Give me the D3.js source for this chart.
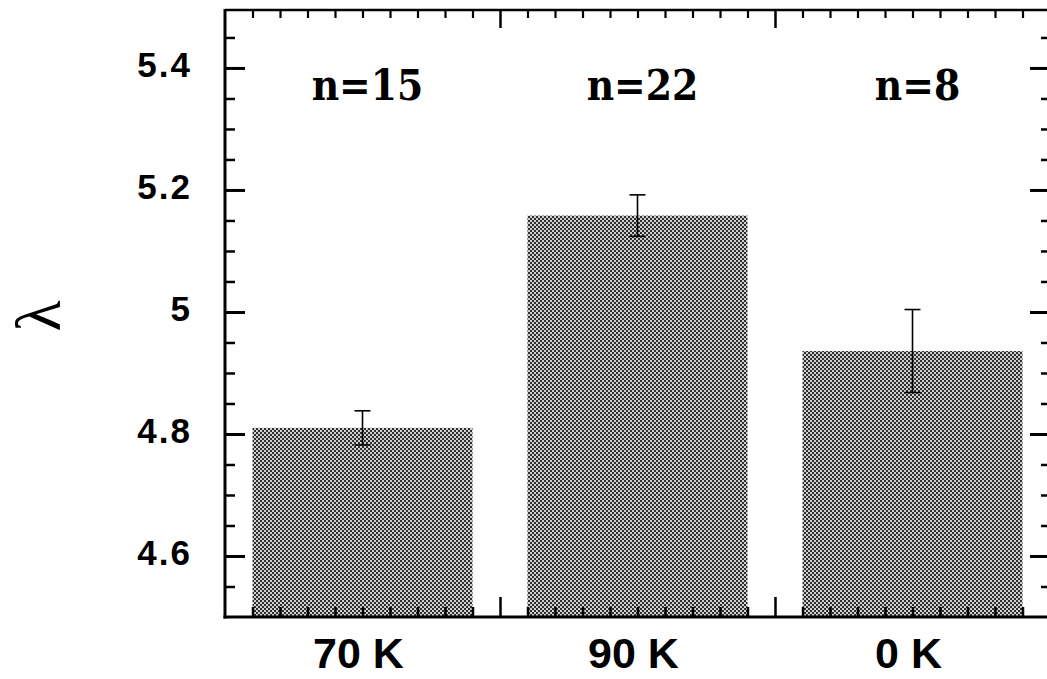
<!DOCTYPE html>
<html>
<head>
<meta charset="utf-8">
<script src="https://cdn.jsdelivr.net/npm/d3@7"></script>
<style>
  html, body { margin: 0; padding: 0; background: #fff; }
  svg { display: block; }
</style>
</head>
<body>
<svg id="chart" width="1047" height="679"></svg>
<script>
// ---- data ----
const categories = ["70 K", "90 K", "0 K"];
const means = [4.81, 5.158, 4.936];
const errors = [0.028, 0.034, 0.068];
const counts = ["n=15", "n=22", "n=8"];
const yTickValues = [4.6, 4.8, 5, 5.2, 5.4];
const yTickLabels = ["4.6", "4.8", "5", "5.2", "5.4"];
const yDomain = [4.5, 5.495];

// ---- layout ----
const mLeft = 225, mRight = 1050, mTop = 10, mBottom = 617;

const svg = d3.select("#chart");

const x = d3.scaleBand().domain(categories).range([mLeft, mRight])
  .paddingInner(0.2).paddingOuter(0.1);
const y = d3.scaleLinear().domain(yDomain).range([mBottom, mTop]);
const xl = d3.scaleLinear().domain([0, categories.length]).range([mLeft, mRight]);

// texture pattern
const defs = svg.append("defs");
const pat = defs.append("pattern").attr("id", "halftone")
  .attr("patternUnits", "userSpaceOnUse").attr("width", 4).attr("height", 4);
pat.append("rect").attr("width", 4).attr("height", 4).attr("fill", "#d0d0d0");
pat.append("rect").attr("x", 0).attr("y", 0).attr("width", 2).attr("height", 2).attr("fill", "#2e2e2e");
pat.append("rect").attr("x", 2).attr("y", 2).attr("width", 2).attr("height", 2).attr("fill", "#2e2e2e");

// bars
svg.append("g").selectAll("rect").data(categories).join("rect")
  .attr("x", d => x(d))
  .attr("width", x.bandwidth())
  .attr("y", (d, i) => y(means[i]))
  .attr("height", (d, i) => y(yDomain[0]) - y(means[i]))
  .attr("fill", "url(#halftone)");

// error bars
const eb = svg.append("g").attr("stroke", "#000").attr("stroke-width", 1.6);
categories.forEach((c, i) => {
  const cx = x(c) + x.bandwidth() / 2;
  const y1 = y(means[i] + errors[i]), y2 = y(means[i] - errors[i]);
  eb.append("line").attr("x1", cx).attr("x2", cx).attr("y1", y1).attr("y2", y2);
  eb.append("line").attr("x1", cx - 8).attr("x2", cx + 8).attr("y1", y1).attr("y2", y1);
  eb.append("line").attr("x1", cx - 8).attr("x2", cx + 8).attr("y1", y2).attr("y2", y2);
});

// axes (ticks inward)
const yMinor = d3.range(4.55, 5.49, 0.05).map(v => +v.toFixed(2)).filter(v => !yTickValues.some(t => Math.abs(t - v) < 1e-6));
const xMinor = d3.range(0.1, categories.length, 0.1).map(v => +v.toFixed(2)).filter(v => Math.abs(v - Math.round(v)) > 1e-6);
const xMajor = d3.range(1, categories.length);

function styleAxis(g, sw) {
  g.select(".domain").remove();
  g.selectAll("text").remove();
  g.selectAll("line").attr("stroke", "#000").attr("stroke-width", sw);
}

// left
svg.append("g").attr("transform", `translate(${mLeft},0)`)
  .call(d3.axisLeft(y).tickValues(yTickValues).tickSize(-20)).call(g => styleAxis(g, 3));
svg.append("g").attr("transform", `translate(${mLeft},0)`)
  .call(d3.axisLeft(y).tickValues(yMinor).tickSize(-10)).call(g => styleAxis(g, 2.5));
// right
svg.append("g").attr("transform", `translate(${mRight},0)`)
  .call(d3.axisRight(y).tickValues(yTickValues).tickSize(-20)).call(g => styleAxis(g, 3));
svg.append("g").attr("transform", `translate(${mRight},0)`)
  .call(d3.axisRight(y).tickValues(yMinor).tickSize(-9)).call(g => styleAxis(g, 2.5));
// top
svg.append("g").attr("transform", `translate(0,${mTop})`)
  .call(d3.axisTop(xl).tickValues(xMajor).tickSize(-18)).call(g => styleAxis(g, 2.5));
svg.append("g").attr("transform", `translate(0,${mTop})`)
  .call(d3.axisTop(xl).tickValues(xMinor).tickSize(-8)).call(g => styleAxis(g, 2.2));
// bottom
svg.append("g").attr("transform", `translate(0,${mBottom})`)
  .call(d3.axisBottom(xl).tickValues(xMajor).tickSize(-20)).call(g => styleAxis(g, 2.5));
svg.append("g").attr("transform", `translate(0,${mBottom})`)
  .call(d3.axisBottom(xl).tickValues(xMinor).tickSize(-10)).call(g => styleAxis(g, 2.5));

// frame
const frame = svg.append("g").attr("stroke", "#000").attr("fill", "none");
frame.append("line").attr("x1", mLeft).attr("x2", mLeft).attr("y1", mTop - 1).attr("y2", mBottom + 1.5).attr("stroke-width", 3);
frame.append("line").attr("x1", mLeft).attr("x2", mRight).attr("y1", mTop).attr("y2", mTop).attr("stroke-width", 2.5);
frame.append("line").attr("x1", mLeft - 1.5).attr("x2", mRight).attr("y1", mBottom).attr("y2", mBottom).attr("stroke-width", 3);
frame.append("line").attr("x1", mRight).attr("x2", mRight).attr("y1", mTop).attr("y2", mBottom).attr("stroke-width", 3);

// y tick labels
svg.append("g").selectAll("text").data(yTickValues).join("text")
  .attr("x", mLeft - 33)
  .attr("y", d => y(d) - 3)
  .attr("text-anchor", "end")
  .attr("dominant-baseline", "central")
  .attr("font-family", "'Liberation Sans', Arial, sans-serif")
  .attr("font-weight", "bold")
  .attr("font-size", 35)
  .attr("letter-spacing", 2)
  .text((d, i) => yTickLabels[i]);

// x labels
svg.append("g").selectAll("text").data(categories).join("text")
  .attr("x", d => x(d) + x.bandwidth() / 2 - 4)
  .attr("y", 668)
  .attr("text-anchor", "middle")
  .attr("font-family", "'Liberation Sans', Arial, sans-serif")
  .attr("font-weight", "bold")
  .attr("font-size", 43)
  .text(d => d);

// n labels
svg.append("g").selectAll("text").data(categories).join("text")
  .attr("x", d => x(d) + x.bandwidth() / 2 + 5)
  .attr("y", 100)
  .attr("text-anchor", "middle")
  .attr("font-family", "'DejaVu Serif Condensed', 'DejaVu Serif', serif")
  .attr("font-stretch", "condensed")
  .attr("font-weight", "bold")
  .attr("font-size", 42)
  .text((d, i) => counts[i]);

// y axis title
svg.append("text")
  .attr("transform", "translate(38,316) rotate(-90)")
  .attr("text-anchor", "middle")
  .attr("dominant-baseline", "central")
  .attr("font-family", "'Liberation Serif', 'Times New Roman', serif")
  .attr("font-size", 64)
  .text("λ");
</script>
</body>
</html>
